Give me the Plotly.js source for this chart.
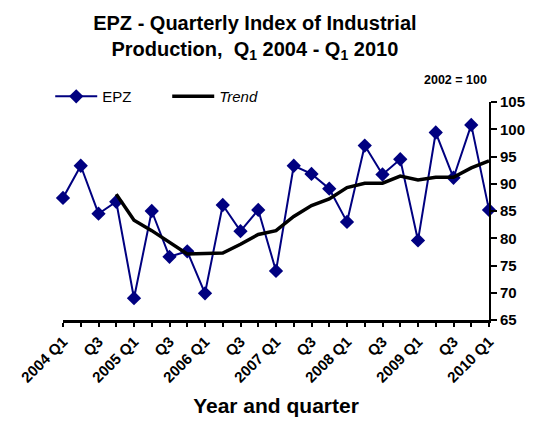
<!DOCTYPE html>
<html><head><meta charset="utf-8">
<script src="https://cdn.plot.ly/plotly-3.0.1.min.js"></script>
<style>html,body{margin:0;padding:0;background:#fff}#c{width:540px;height:427px}</style>
</head><body><div id="c"></div>
<script>
const quarters = ['2004 Q1','Q2','Q3','Q4','2005 Q1','Q2','Q3','Q4','2006 Q1','Q2','Q3','Q4','2007 Q1','Q2','Q3','Q4','2008 Q1','Q2','Q3','Q4','2009 Q1','Q2','Q3','Q4','2010 Q1'];
const epz = [87.4,93.3,84.5,86.7,69.0,85.0,76.6,77.6,69.9,86.1,81.3,85.2,74.0,93.3,91.8,89.1,83.0,97.0,91.7,94.5,79.6,99.4,91.1,100.8,85.2];
const trend = [null,null,null,88.1,83.3,81.4,79.3,77.1,77.2,77.3,78.9,80.7,81.4,84.0,86.0,87.2,89.3,90.1,90.1,91.4,90.7,91.2,91.2,92.9,94.2];
const yTicks = [65,70,75,80,85,90,95,100,105];

const idx = quarters.map((q,i)=>i);
const labelIdx = idx.filter(i => i%2===0);
const labelText = labelIdx.map(i => quarters[i]);
const F = 'Liberation Sans, Arial, sans-serif';

const data = [
  {x: idx, y: epz, name: 'EPZ', mode: 'lines+markers', type: 'scatter',
   line: {color: '#000080', width: 2}, marker: {symbol: 'diamond', size: 11, color: '#000080'}, cliponaxis: false},
  {x: idx, y: trend, name: '<i>Trend</i>', mode: 'lines', type: 'scatter',
   line: {color: '#000000', width: 3.5}, cliponaxis: false}
];
const layout = {
  width: 540, height: 427,
  margin: {l: 63, r: 51, t: 102, b: 107},
  paper_bgcolor: '#fff', plot_bgcolor: '#fff',
  showlegend: true,
  legend: {orientation: 'h', x: -0.03, xanchor: 'left', y: 1.025, yanchor: 'middle',
           font: {family: F, size: 15, color: '#000'}, bgcolor: 'rgba(0,0,0,0)', tracegroupgap: 0,
           itemwidth: 42, entrywidth: 60, entrywidthmode: 'pixels'},
  title: {text: '<b>EPZ - Quarterly Index of Industrial<br>Production,  Q<sub>1</sub> 2004 - Q<sub>1</sub> 2010</b>',
          font: {family: F, size: 20, color: '#000'}, x: 0.472, xanchor: 'center', y: 0.93, yanchor: 'middle'},
  xaxis: {range: [0, 24], tickmode: 'array', tickvals: labelIdx, ticktext: labelText, tickangle: -45,
          ticks: 'outside', ticklen: 4, tickwidth: 2, tickcolor: '#000',
          minor: {tickmode: 'linear', tick0: 0, dtick: 1, ticks: 'outside', ticklen: 4, tickwidth: 2, tickcolor: '#000', showgrid: false},
          showline: true, linecolor: '#000', linewidth: 3, showgrid: false, zeroline: false,
          tickfont: {family: F, size: 15, color: '#000', weight: 'bold'},
          title: {text: '<b>Year and quarter</b>', font: {family: F, size: 21, color: '#000'}, standoff: 14}},
  yaxis: {range: [65, 105], tickvals: yTicks, side: 'right', ticks: 'outside', ticklen: 6, tickwidth: 2, tickcolor: '#000',
          showline: true, linecolor: '#000', linewidth: 2, showgrid: false, zeroline: false,
          tickfont: {family: F, size: 15, color: '#000', weight: 'bold'}},
  annotations: [{text: '<b>2002 = 100</b>', xref: 'paper', yref: 'paper', x: 1.0, y: 1.1,
                 xanchor: 'right', yanchor: 'middle', showarrow: false, font: {family: F, size: 12.5, color: '#000'}}]
};
Plotly.newPlot('c', data, layout, {displayModeBar: false, staticPlot: true});
</script></body></html>
